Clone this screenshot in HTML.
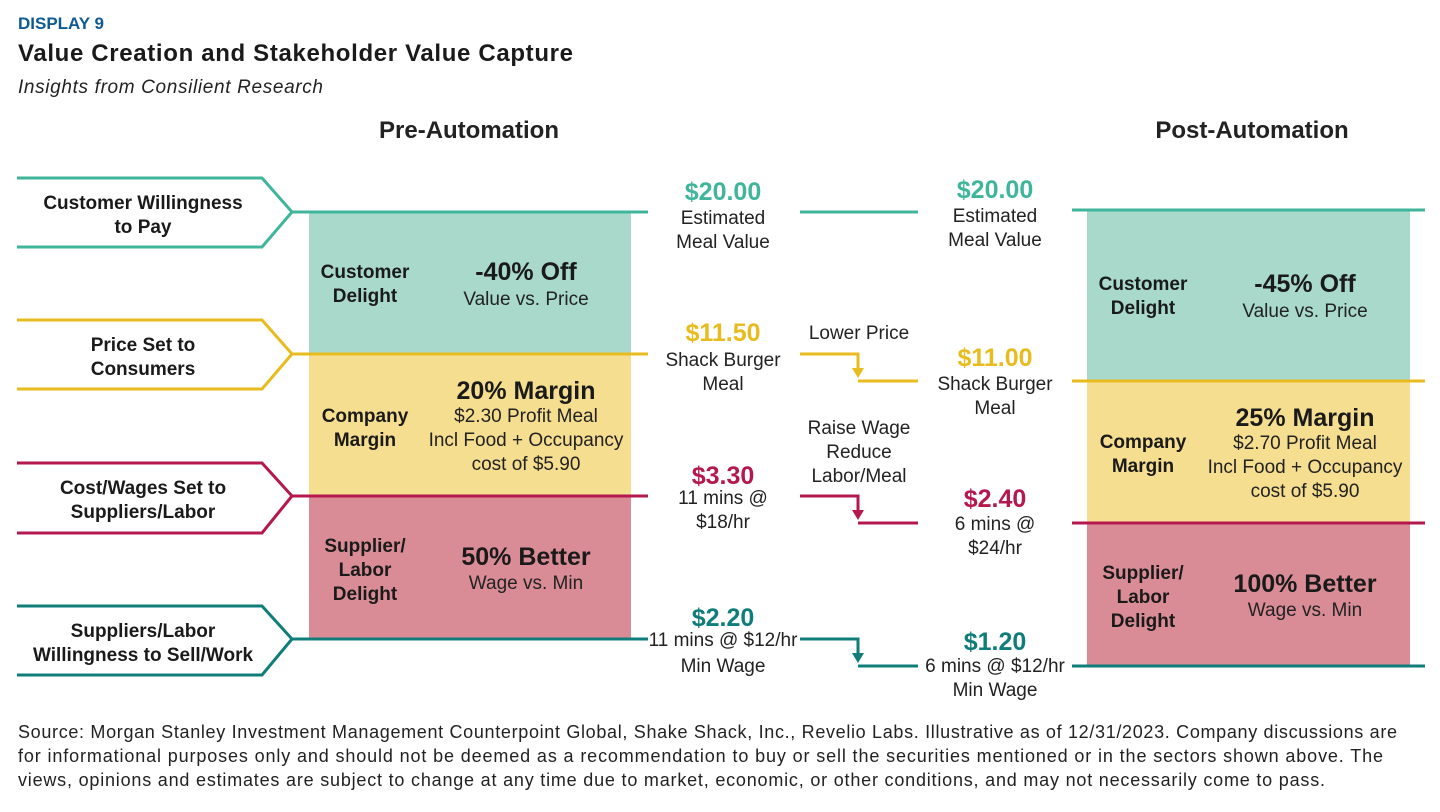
<!DOCTYPE html>
<html><head><meta charset="utf-8"><style>
html,body{margin:0;padding:0;background:#fff;width:1440px;height:812px;overflow:hidden;font-family:"Liberation Sans",sans-serif;}
svg{display:block}
</style></head><body>
<svg width="1440" height="812" viewBox="0 0 1440 812" font-family="Liberation Sans, sans-serif">
<text x="18" y="29" font-size="17" font-weight="bold" fill="#0d5a94">DISPLAY 9</text>
<text x="18" y="61" font-size="24" font-weight="bold" fill="#1a1a1a" textLength="555">Value Creation and Stakeholder Value Capture</text>
<text x="18" y="93" font-size="19" font-style="italic" fill="#222" textLength="305">Insights from Consilient Research</text>
<text x="469" y="138" font-size="24" font-weight="bold" text-anchor="middle" fill="#222">Pre-Automation</text>
<text x="1252" y="138" font-size="24" font-weight="bold" text-anchor="middle" fill="#222">Post-Automation</text>

<rect x="309" y="212" width="322" height="142" fill="#a8d9cb"/>
<rect x="309" y="354" width="322" height="142" fill="#f6de90"/>
<rect x="309" y="496" width="322" height="143" fill="#d98c96"/>
<rect x="1087" y="210" width="323" height="171" fill="#a8d9cb"/>
<rect x="1087" y="381" width="323" height="142" fill="#f6de90"/>
<rect x="1087" y="523" width="323" height="143" fill="#d98c96"/>

<g fill="none" stroke-width="3">
<path d="M17 178H262L292 212L262 247H17M292 212H648" stroke="#3fb59b"/>
<path d="M17 320H262L292 354L262 389H17M292 354H648" stroke="#e8bc1e"/>
<path d="M17 463H262L292 496L262 533H17M292 496H648" stroke="#b5174f"/>
<path d="M17 606H262L292 639L262 675H17M292 639H648" stroke="#0f7d7a"/>
<path d="M800 212H918M1072 210H1425" stroke="#3fb59b"/>
<path d="M800 354H858V372M858 381H918M1072 381H1425" stroke="#e8bc1e"/>
<path d="M800 496H858V514M858 523H918M1072 523H1425" stroke="#b5174f"/>
<path d="M800 639H858V657M858 666H918M1072 666H1425" stroke="#0f7d7a"/>
</g>
<path d="M852 368H864L858 378Z" fill="#e8bc1e"/>
<path d="M852 510H864L858 520Z" fill="#b5174f"/>
<path d="M852 653H864L858 663Z" fill="#0f7d7a"/>

<g font-size="19" font-weight="bold" fill="#1a1a1a" text-anchor="middle">
<text x="143" y="209">Customer Willingness</text>
<text x="143" y="233">to Pay</text>
<text x="143" y="351">Price Set to</text>
<text x="143" y="375">Consumers</text>
<text x="143" y="494">Cost/Wages Set to</text>
<text x="143" y="518">Suppliers/Labor</text>
<text x="143" y="637">Suppliers/Labor</text>
<text x="143" y="661">Willingness to Sell/Work</text>
</g>

<g font-size="19" font-weight="bold" fill="#1a1a1a" text-anchor="middle">
<text x="365" y="278">Customer</text><text x="365" y="302">Delight</text>
<text x="365" y="422">Company</text><text x="365" y="446">Margin</text>
<text x="365" y="552">Supplier/</text><text x="365" y="576">Labor</text><text x="365" y="600">Delight</text>
<text x="1143" y="290">Customer</text><text x="1143" y="314">Delight</text>
<text x="1143" y="448">Company</text><text x="1143" y="472">Margin</text>
<text x="1143" y="579">Supplier/</text><text x="1143" y="603">Labor</text><text x="1143" y="627">Delight</text>
</g>
<g font-size="25" font-weight="bold" fill="#1a1a1a" text-anchor="middle">
<text x="526" y="280">-40% Off</text>
<text x="526" y="399">20% Margin</text>
<text x="526" y="565">50% Better</text>
<text x="1305" y="292">-45% Off</text>
<text x="1305" y="426">25% Margin</text>
<text x="1305" y="592">100% Better</text>
</g>
<g font-size="19" fill="#222" text-anchor="middle">
<text x="526" y="305">Value vs. Price</text>
<text x="526" y="422">$2.30 Profit Meal</text><text x="526" y="446">Incl Food + Occupancy</text><text x="526" y="470">cost of $5.90</text>
<text x="526" y="589">Wage vs. Min</text>
<text x="1305" y="317">Value vs. Price</text>
<text x="1305" y="449">$2.70 Profit Meal</text><text x="1305" y="473">Incl Food + Occupancy</text><text x="1305" y="497">cost of $5.90</text>
<text x="1305" y="616">Wage vs. Min</text>
</g>

<g font-size="25" font-weight="bold" text-anchor="middle">
<text x="723" y="200" fill="#3fb59b">$20.00</text>
<text x="723" y="341" fill="#e8bc1e">$11.50</text>
<text x="723" y="484" fill="#b5174f">$3.30</text>
<text x="723" y="626" fill="#0f7d7a">$2.20</text>
<text x="995" y="198" fill="#3fb59b">$20.00</text>
<text x="995" y="366" fill="#e8bc1e">$11.00</text>
<text x="995" y="507" fill="#b5174f">$2.40</text>
<text x="995" y="650" fill="#0f7d7a">$1.20</text>
</g>
<g font-size="19" fill="#222" text-anchor="middle">
<text x="723" y="224">Estimated</text><text x="723" y="248">Meal Value</text>
<text x="723" y="366">Shack Burger</text><text x="723" y="390">Meal</text>
<text x="723" y="504">11 mins @</text><text x="723" y="528">$18/hr</text>
<text x="723" y="646">11 mins @ $12/hr</text><text x="723" y="672">Min Wage</text>
<text x="995" y="222">Estimated</text><text x="995" y="246">Meal Value</text>
<text x="995" y="390">Shack Burger</text><text x="995" y="414">Meal</text>
<text x="995" y="530">6 mins @</text><text x="995" y="554">$24/hr</text>
<text x="995" y="672">6 mins @ $12/hr</text><text x="995" y="696">Min Wage</text>
<text x="859" y="339">Lower Price</text>
<text x="859" y="434">Raise Wage</text><text x="859" y="458">Reduce</text><text x="859" y="482">Labor/Meal</text>
</g>

<g font-size="18" fill="#222">
<text x="18" y="738" textLength="1379">Source: Morgan Stanley Investment Management Counterpoint Global, Shake Shack, Inc., Revelio Labs. Illustrative as of 12/31/2023. Company discussions are</text>
<text x="18" y="762" textLength="1365">for informational purposes only and should not be deemed as a recommendation to buy or sell the securities mentioned or in the sectors shown above. The</text>
<text x="18" y="786" textLength="1307">views, opinions and estimates are subject to change at any time due to market, economic, or other conditions, and may not necessarily come to pass.</text>
</g>
</svg>
</body></html>
